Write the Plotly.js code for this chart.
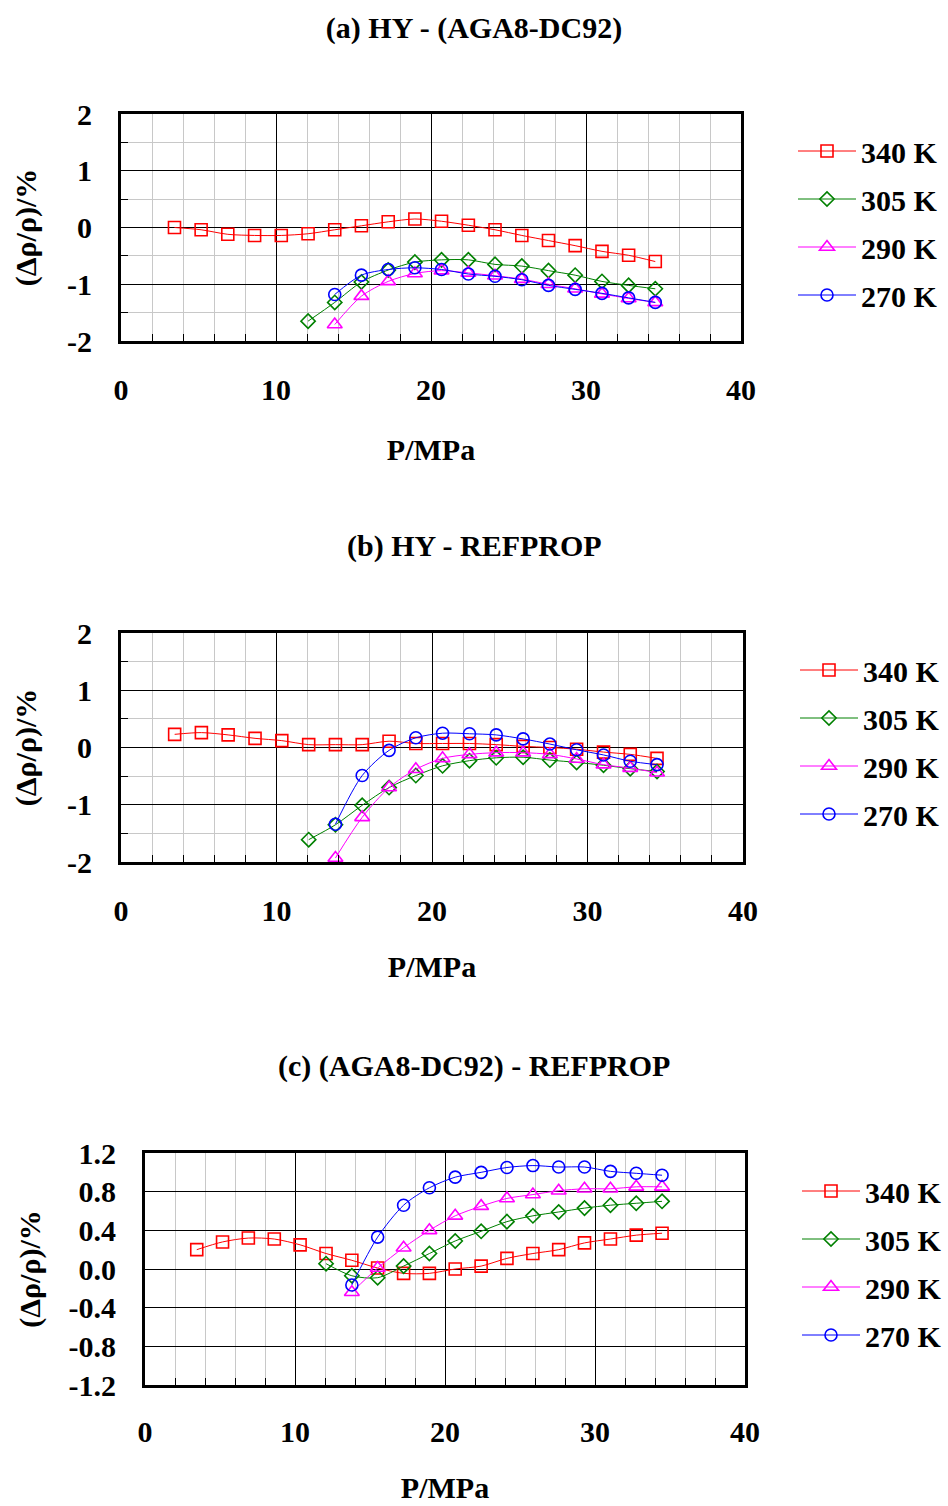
<!DOCTYPE html>
<html>
<head>
<meta charset="utf-8">
<script src="https://cdn.plot.ly/plotly-3.0.1.min.js"></script>
<style>html,body{margin:0;padding:0;background:#fff;}#chart{width:948px;height:1506px;}</style>
</head>
<body>
<div id="chart"></div>
<script>
// ---------- data ----------
const P19 = [3.45, 5.17, 6.89, 8.62, 10.34, 12.07, 13.79, 15.51, 17.24, 18.96, 20.68, 22.41, 24.13, 25.86, 27.58, 29.30, 31.03, 32.75, 34.47];
const P14 = P19.slice(5);
const P13 = P19.slice(6);

const seriesNames = ["340 K", "305 K", "290 K", "270 K"];

// (a) HY - (AGA8-DC92)
const a340 = [0.00, -0.04, -0.12, -0.14, -0.14, -0.11, -0.04, 0.03, 0.10, 0.15, 0.11, 0.04, -0.04, -0.14, -0.23, -0.32, -0.42, -0.49, -0.60];
const a305 = [-1.65, -1.32, -0.96, -0.75, -0.61, -0.57, -0.57, -0.65, -0.68, -0.76, -0.84, -0.95, -1.02, -1.08];
const a290 = [-1.71, -1.21, -0.95, -0.81, -0.76, -0.80, -0.85, -0.91, -1.00, -1.08, -1.17, -1.25, -1.32];
const a270 = [-1.18, -0.84, -0.74, -0.71, -0.74, -0.82, -0.86, -0.92, -1.02, -1.09, -1.16, -1.24, -1.32];

// (b) HY - REFPROP
const b340 = [0.23, 0.26, 0.22, 0.16, 0.12, 0.05, 0.05, 0.05, 0.11, 0.07, 0.07, 0.07, 0.05, 0.02, 0.00, -0.03, -0.08, -0.12, -0.19];
const b305 = [-1.61, -1.35, -1.01, -0.70, -0.49, -0.32, -0.23, -0.18, -0.17, -0.22, -0.26, -0.31, -0.37, -0.42];
const b290 = [-1.93, -1.22, -0.70, -0.38, -0.19, -0.12, -0.09, -0.09, -0.12, -0.20, -0.30, -0.36, -0.44];
const b270 = [-1.34, -0.49, -0.05, 0.17, 0.25, 0.24, 0.22, 0.15, 0.06, -0.04, -0.13, -0.24, -0.30];

// (c) (AGA8-DC92) - REFPROP
const c340 = [0.20, 0.28, 0.32, 0.31, 0.25, 0.16, 0.09, 0.01, -0.045, -0.045, 0.00, 0.03, 0.11, 0.16, 0.20, 0.27, 0.31, 0.35, 0.37];
const c305 = [0.055, -0.07, -0.09, 0.03, 0.16, 0.29, 0.39, 0.49, 0.55, 0.59, 0.63, 0.66, 0.68, 0.70];
const c290 = [-0.24, 0.01, 0.22, 0.40, 0.55, 0.65, 0.73, 0.77, 0.81, 0.83, 0.83, 0.85, 0.85];
const c270 = [-0.165, 0.33, 0.66, 0.84, 0.95, 1.00, 1.05, 1.07, 1.055, 1.055, 1.01, 0.99, 0.97];

const titles = ["(a) HY - (AGA8-DC92)", "(b) HY - REFPROP", "(c) (AGA8-DC92) - REFPROP"];
const xTickVals = [0, 10, 20, 30, 40];
const xTickText = ["0", "10", "20", "30", "40"];
const yTickValsAB = [-2, -1, 0, 1, 2];
const yTickTextAB = ["-2", "-1", "0", "1", "2"];
const yTickValsC = [-1.2, -0.8, -0.4, 0, 0.4, 0.8, 1.2];
const yTickTextC = ["-1.2", "-0.8", "-0.4", "0.0", "0.4", "0.8", "1.2"];

// ---------- styles ----------
const W = 948, H = 1506;
const FONT = "Liberation Serif, Times New Roman, serif";
const colors = ["#FF0000", "#008000", "#FF00FF", "#0000FF"];
const symbols = ["square-open", "diamond-open", "triangle-up-open", "circle-open"];
const msize = [12, 11, 13, 12];

function px2x(p) { return p / W; }
function px2y(p) { return 1 - p / H; }

const panels = [
  { xs: [P19, P14, P13, P13], ys: [a340, a305, a290, a270], xa: "x", ya: "y", leg: "legend" },
  { xs: [P19, P14, P13, P13], ys: [b340, b305, b290, b270], xa: "x2", ya: "y2", leg: "legend2" },
  { xs: [P19, P14, P13, P13], ys: [c340, c305, c290, c270], xa: "x3", ya: "y3", leg: "legend3" }
];

const traces = [];
panels.forEach((p, pi) => {
  for (let i = 0; i < 4; i++) {
    traces.push({
      type: "scatter", mode: "lines+markers",
      x: p.xs[i], y: p.ys[i], name: seriesNames[i],
      xaxis: p.xa, yaxis: p.ya, legend: p.leg,
      legendgroup: "g" + pi + "_" + i,
      line: { color: colors[i], width: 1, shape: "spline", smoothing: 0.8 },
      marker: { symbol: symbols[i], size: msize[i], color: colors[i], line: { width: 1.6, color: colors[i] } },
      cliponaxis: false
    });
  }
});

function xaxis(dom, anchor, lblStand, titleStand) {
  return {
    domain: [px2x(dom[0]), px2x(dom[1])], anchor: anchor, range: [0, 40],
    tickvals: xTickVals, ticktext: xTickText,
    showline: true, linewidth: 3, linecolor: "#000", mirror: true,
    showgrid: true, gridcolor: "#000", gridwidth: 1, zeroline: false,
    ticks: "inside", ticklen: 7, tickcolor: "#000", tickwidth: 1,
    ticklabelstandoff: lblStand,
    minor: { dtick: 2, tick0: 0, showgrid: true, gridcolor: "#c8c8c8", gridwidth: 1, ticks: "inside", ticklen: 7, tickcolor: "#000", tickwidth: 1 },
    tickfont: { family: FONT, size: 30, color: "#000", weight: "bold" },
    title: { text: "P/MPa", standoff: titleStand, font: { family: FONT, size: 30, color: "#000", weight: "bold" } },
    automargin: false, fixedrange: true
  };
}
function yaxisAB(dom, anchor) {
  return {
    domain: [px2y(dom[1]), px2y(dom[0])], anchor: anchor, range: [-2, 2],
    tickvals: yTickValsAB, ticktext: yTickTextAB,
    showline: true, linewidth: 3, linecolor: "#000", mirror: true,
    showgrid: true, gridcolor: "#000", gridwidth: 1, zeroline: false,
    ticks: "inside", ticklen: 7, tickcolor: "#000", tickwidth: 1,
    ticklabelstandoff: 20,
    minor: { dtick: 0.5, tick0: 0, showgrid: true, gridcolor: "#c8c8c8", gridwidth: 1, ticks: "inside", ticklen: 7, tickcolor: "#000", tickwidth: 1 },
    tickfont: { family: FONT, size: 30, color: "#000", weight: "bold" },
    title: { text: "(Δρ/ρ)/%", standoff: 22, font: { family: FONT, size: 30, color: "#000", weight: "bold" } },
    automargin: false, fixedrange: true
  };
}
function yaxisC(dom, anchor) {
  return {
    domain: [px2y(dom[1]), px2y(dom[0])], anchor: anchor, range: [-1.2, 1.2],
    tickvals: yTickValsC, ticktext: yTickTextC,
    showline: true, linewidth: 3, linecolor: "#000", mirror: true,
    showgrid: true, gridcolor: "#000", gridwidth: 1, zeroline: false,
    ticks: "inside", ticklen: 7, tickcolor: "#000", tickwidth: 1,
    ticklabelstandoff: 20,
    tickfont: { family: FONT, size: 30, color: "#000", weight: "bold" },
    title: { text: "(Δρ/ρ)/%", standoff: 20, font: { family: FONT, size: 30, color: "#000", weight: "bold" } },
    automargin: false, fixedrange: true
  };
}
function legend(xp, yp) {
  return {
    x: px2x(xp), y: px2y(yp), xanchor: "left", yanchor: "top",
    font: { family: FONT, size: 30, color: "#000", weight: "bold" },
    bgcolor: "rgba(0,0,0,0)", borderwidth: 0, tracegroupgap: 6, itemwidth: 58, traceorder: "grouped"
  };
}

const layout = {
  width: W, height: H,
  margin: { l: 0, r: 0, t: 0, b: 0 },
  paper_bgcolor: "#fff", plot_bgcolor: "#fff",
  showlegend: true,
  title: { text: titles[0], x: 0.5, xanchor: "center", y: px2y(27), yanchor: "middle", yref: "paper",
           font: { family: FONT, size: 30, color: "#000", weight: "bold" } },
  xaxis: xaxis([121, 741], "y", 20, 34),
  yaxis: yaxisAB([114, 341], "x"),
  xaxis2: xaxis([121, 743], "y2", 20, 30),
  yaxis2: yaxisAB([633, 862], "x2"),
  xaxis3: xaxis([145, 745], "y3", 18, 30),
  yaxis3: yaxisC([1153, 1385], "x3"),
  legend: legend(793, 125),
  legend2: legend(795, 644),
  legend3: legend(797, 1165),
  annotations: [
    { text: titles[1], xref: "paper", yref: "paper", x: 0.5, y: px2y(546), xanchor: "center", yanchor: "middle", showarrow: false,
      font: { family: FONT, size: 30, color: "#000", weight: "bold" } },
    { text: titles[2], xref: "paper", yref: "paper", x: 0.5, y: px2y(1066), xanchor: "center", yanchor: "middle", showarrow: false,
      font: { family: FONT, size: 30, color: "#000", weight: "bold" } }
  ]
};

Plotly.newPlot("chart", traces, layout, { displayModeBar: false, staticPlot: true });
</script>
</body>
</html>
